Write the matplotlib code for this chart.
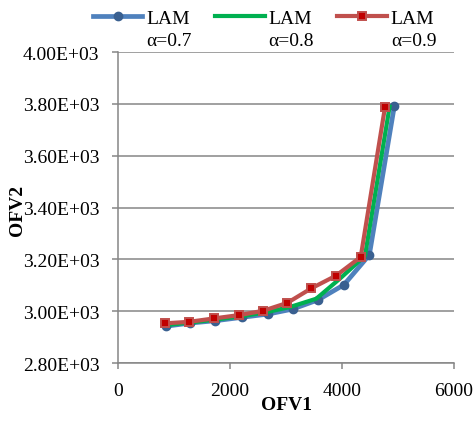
import matplotlib
matplotlib.use("Agg")
import matplotlib.pyplot as plt
import numpy as np

plt.rcParams['font.family'] = ['Liberation Serif', 'DejaVu Serif']

x_07 = [857, 1286, 1732, 2209, 2684, 3118, 3577, 4036, 4488, 4934]
y_07 = [2942, 2954, 2963, 2976, 2989, 3008, 3044, 3102, 3217, 3791]
x_08 = [850, 1280, 1722, 2190, 2630, 3070, 3540, 3960, 4410, 4850]
y_08 = [2946, 2956, 2967, 2980, 2995, 3016, 3048, 3125, 3213, 3789]
x_09 = [839, 1273, 1714, 2166, 2584, 3023, 3452, 3893, 4334, 4768]
y_09 = [2953, 2959, 2972, 2985, 3001, 3032, 3088, 3137, 3209, 3787]
labels = ["LAM\nα=0.7", "LAM\nα=0.8", "LAM\nα=0.9"]
xticks = [0, 2000, 4000, 6000]
yticks = [2800, 3000, 3200, 3400, 3600, 3800, 4000]

fig = plt.figure(figsize=(4.75, 4.27), dpi=100)
ax = fig.add_axes([118/475, 1-364/427, 336/475, 311/427])

grid_c = '#868686'
ax.plot(x_07, y_07, color='#4F81BD', lw=3.4, marker='o', ms=6,
        mfc='#3A6090', mec='#3A6090', label=labels[0], zorder=3)
ax.plot(x_08, y_08, color='#00B050', lw=3, label=labels[1], zorder=4)
ax.plot(x_09, y_09, color='#C0504D', lw=3, marker='s', ms=5.5,
        mfc='#C00000', mec='#C0504D', mew=1.4, label=labels[2], zorder=5)

ax.set_xlim(0, 6000)
ax.set_ylim(2800, 4000)
ax.set_xticks(xticks)
ax.set_yticks(yticks)
ax.set_yticklabels([f"{v/1000:.2f}E+03" for v in yticks])
ax.yaxis.grid(True, color=grid_c, lw=1.1)
ax.set_axisbelow(True)
for s in ['top', 'right']:
    ax.spines[s].set_visible(False)
for s in ['left', 'bottom']:
    ax.spines[s].set_color(grid_c)
    ax.spines[s].set_linewidth(1.1)
ax.tick_params(axis='both', direction='out', length=4.5, width=1.1,
               color=grid_c, labelsize=14, pad=9)
ax.set_xlabel("OFV1", fontsize=14, fontweight='bold', labelpad=-2)
ax.set_ylabel("OFV2", fontsize=14, fontweight='bold')
ax.yaxis.set_label_coords(-0.275, 0.495)

leg = fig.legend(loc='upper center', bbox_to_anchor=(0.557, 1-11/427), ncol=3,
                 frameon=False, fontsize=14, handlelength=2.55,
                 handletextpad=0.2, columnspacing=1.2, borderaxespad=0,
                 borderpad=0)
for t in leg.get_texts():
    t.set_linespacing(1.4)
for h in leg.legend_handles:
    h.set_ydata(np.asarray(h.get_ydata()) + 9.5)

fig.savefig("out.png", dpi=100)
